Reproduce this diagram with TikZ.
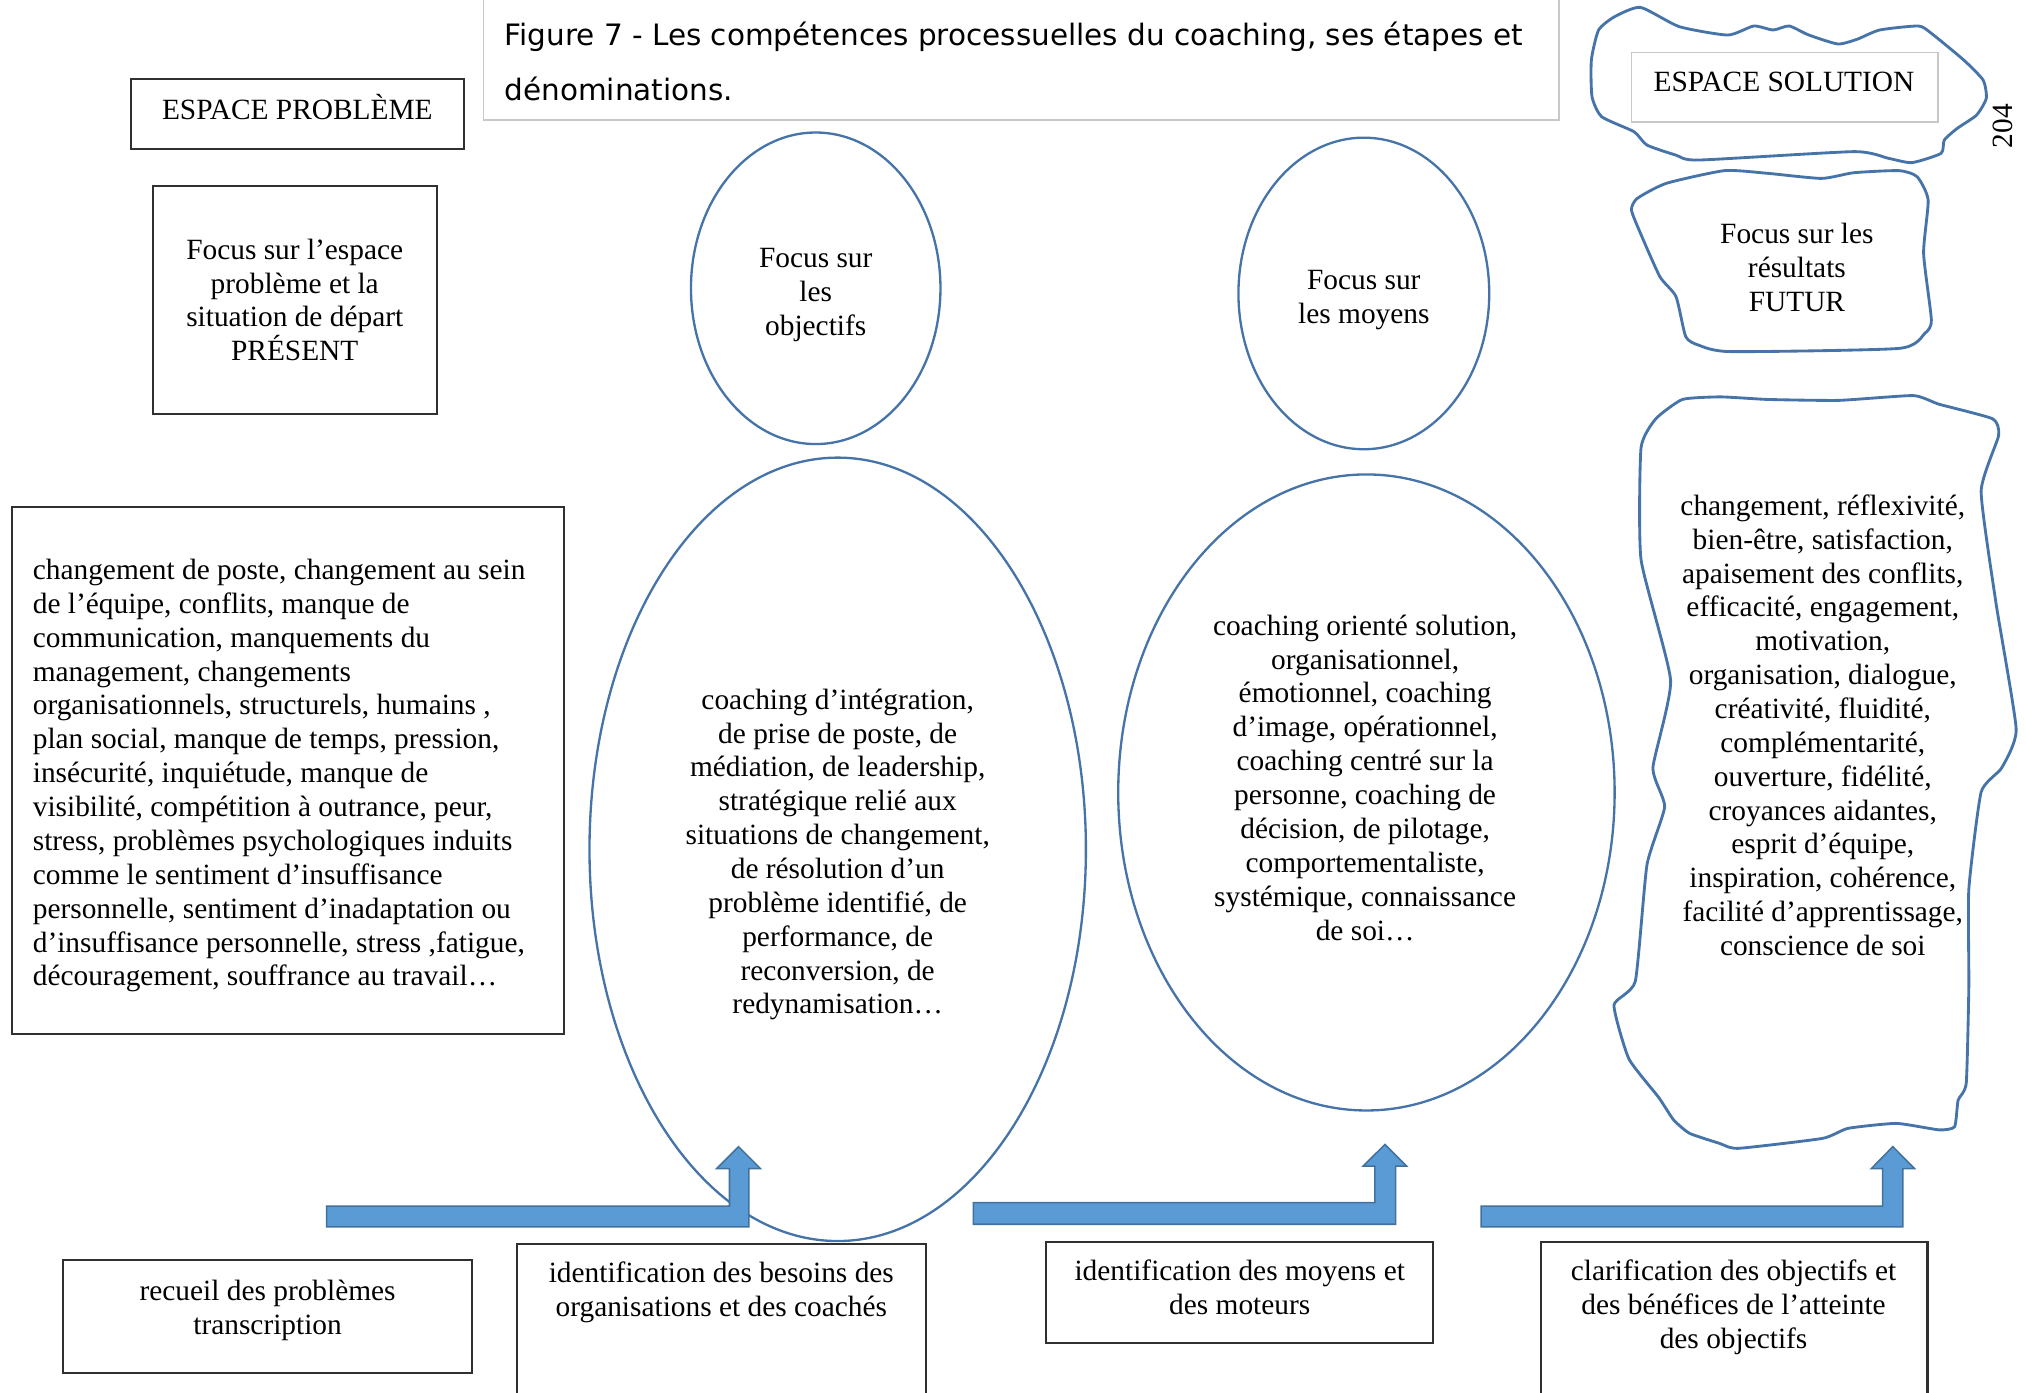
\documentclass[tikz,border=0pt]{standalone}
\usepackage{fontspec}
\setmainfont{Liberation Serif}
\newfontfamily\titlefont{DejaVu Sans}
\usetikzlibrary{shapes.geometric}
\definecolor{shapeblue}{HTML}{4674A8}
\definecolor{arrowfill}{HTML}{5B9BD5}
\definecolor{arrowline}{HTML}{41719C}
\definecolor{boxgray}{HTML}{303030}
\definecolor{lightgray}{HTML}{C8C8C8}
\begin{document}
\begin{tikzpicture}[x=0.5pt,y=-0.5pt,
  txt/.style={font=\fontsize{11.36}{13.1}\selectfont, align=center, inner sep=0pt},
  ttl/.style={font=\titlefont\fontsize{11.4}{13.1}\selectfont, inner sep=0pt, anchor=base west},
  rbox/.style={draw=boxgray, line width=0.8pt, inner sep=0pt},
  oval/.style={ellipse, draw=shapeblue, line width=0.9pt, inner sep=0pt},
  blob/.style={draw=shapeblue, line width=1.1pt},
  blockarrow/.style={fill=arrowfill, draw=arrowline, line width=0.6pt}]
\useasboundingbox (0,0) rectangle (1568,1077);

% title
\draw[lightgray, line width=0.6pt] (374,-5) -- (374,93) -- (1206,93) -- (1206,-5);
\node[ttl] (title1) at (390,35) {Figure 7 - Les compétences processuelles du coaching, ses étapes et};
\node[ttl] (title2) at (390,77.4) {dénominations.};

% left column
\node[rbox, minimum width=129pt, minimum height=27pt] (espprob) at (230,88) {};
\node[txt] (espprobt) at (230,82.5) {ESPACE PROBLÈME};
\node[rbox, minimum width=110pt, minimum height=88pt] (focusbox) at (228,232) {};
\node[txt] (focusboxt) at (228,232) {Focus sur l’espace\\problème et la\\situation de départ\\PRÉSENT};
\node[rbox, minimum width=213.5pt, minimum height=204pt] (probbox) at (222.5,596) {};
\node[txt, align=left, anchor=west] (probt) at (25,600) {changement de poste, changement au sein\\de l’équipe, conflits, manque de\\communication, manquements du\\management, changements\\organisationnels, structurels, humains ,\\plan social, manque de temps, pression,\\insécurité, inquiétude, manque de\\visibilité, compétition à outrance, peur,\\stress, problèmes psychologiques induits\\comme le sentiment d’insuffisance\\personnelle, sentiment d’inadaptation ou\\d’insuffisance personnelle, stress ,fatigue,\\découragement, souffrance au travail…};

% ellipses
\node[oval, minimum width=96.5pt, minimum height=120.5pt] (objov) at (631,223) {};
\node[txt] (objt) at (631,228) {Focus sur\\les\\objectifs};
\node[oval, minimum width=97pt, minimum height=120.5pt] (moyov) at (1055,227) {};
\node[txt] (moyt) at (1055,232) {Focus sur\\les moyens};
\node[oval, minimum width=192pt, minimum height=303pt] (bigov1) at (648,657) {};
\node[txt] (big1t) at (648,661) {coaching d’intégration,\\de prise de poste, de\\médiation, de leadership,\\stratégique relié aux\\situations de changement,\\de résolution d’un\\problème identifié, de\\performance, de\\reconversion, de\\redynamisation…};
\node[oval, minimum width=192pt, minimum height=246pt] (bigov2) at (1057,613) {};
\node[txt] (big2t) at (1056,601.5) {coaching orienté solution,\\organisationnel,\\émotionnel, coaching\\d’image, opérationnel,\\coaching centré sur la\\personne, coaching de\\décision, de pilotage,\\comportementaliste,\\systémique, connaissance\\de soi…};

% right column blobs
\draw[blob] plot[smooth cycle, tension=0.35] coordinates {
 (1269,5.7) (1299,20.6) (1336.6,27.1) (1356.6,20.1) (1371.6,23.2) (1384,20.1)
 (1399,27) (1421.6,34) (1436.5,30.4) (1454,23.2) (1484,20.1) (1494,25.8)
 (1519,46.4) (1534,61.9) (1536.5,76) (1529,89) (1514,99.3) (1504,108.3)
 (1501.5,118.6) (1479,125.8) (1461,122.5) (1434,117.3) (1314,123.8)
 (1296.5,120) (1274,112.2) (1264,101.9) (1239,90.3) (1231.5,74.8)
 (1231,46.4) (1236.6,23.2) (1249,12.9)};
\node[draw=lightgray, line width=0.6pt, minimum width=118.5pt, minimum height=27pt, inner sep=0pt] (espsolbox) at (1380.5,67.5) {};
\node[txt] (espsolt) at (1380,63) {ESPACE SOLUTION};
\node[txt, rotate=90] (pagenum) at (1549,97.5) {204};

\draw[blob] plot[smooth cycle, tension=0.35] coordinates {
 (1289,141.8) (1334,132) (1366.6,134) (1409,138) (1434,133.6) (1469,132)
 (1483,136.7) (1491.5,154.7) (1488,196) (1494,247.5) (1489,257.8)
 (1469,269.5) (1339,272) (1314,267) (1304,260.4) (1296.5,229.5)
 (1284,214) (1269,180.5) (1262,162.4) (1266.6,153.4)};
\node[txt] (futurt) at (1390,207) {Focus sur les\\résultats\\FUTUR};

\draw[blob] plot[smooth cycle, tension=0.3] coordinates {
 (1301.4,309) (1331,307) (1367.7,309) (1422.6,309.7) (1480,306) (1500,312.7)
 (1541.5,324) (1546,337) (1532.5,380) (1544,466.5) (1559.6,564) (1548.4,594)
 (1532.5,612.7) (1523,687.7) (1523,762.8) (1521,837.8) (1514.7,851)
 (1512,871.6) (1500,874) (1467,869) (1429.6,872.8) (1409.8,880.6)
 (1344.5,888.3) (1330,884.4) (1307,876.7) (1294.7,866.4) (1283,848.8)
 (1260,819) (1248.5,777.5) (1265,759) (1274,669) (1287.7,624) (1278.6,594)
 (1292.3,526.4) (1269.4,432.7) (1269.4,346.5) (1280.8,324)};
\node[txt] (resultt) at (1410,561) {changement, réflexivité,\\bien-être, satisfaction,\\apaisement des conflits,\\efficacité, engagement,\\motivation,\\organisation, dialogue,\\créativité, fluidité,\\complémentarité,\\ouverture, fidélité,\\croyances aidantes,\\esprit d’équipe,\\inspiration, cohérence,\\facilité d’apprentissage,\\conscience de soi};

% block arrows
\draw[blockarrow] (252.6,933) -- (564.3,933) -- (564.3,904) -- (554.3,904) -- (571.3,887)
  -- (588.3,904) -- (579.3,904) -- (579.3,949) -- (252.6,949) -- cycle;
\draw[blockarrow] (753,930.3) -- (1063.6,930.3) -- (1063.6,902) -- (1054.5,902) -- (1071.3,885.3)
  -- (1088,902) -- (1079.6,902) -- (1079.6,947) -- (753,947) -- cycle;
\draw[blockarrow] (1145.7,933) -- (1456.3,933) -- (1456.3,904) -- (1447.5,904) -- (1464.2,887)
  -- (1481,904) -- (1472,904) -- (1472,949) -- (1145.7,949) -- cycle;

% bottom boxes
\node[rbox, minimum width=158pt, minimum height=43.65pt] (recbox) at (207,1018.35) {};
\node[txt] (rect) at (207,1013.5) {recueil des problèmes\\transcription};
\draw[boxgray, line width=0.8pt] (400,1082) -- (400,962.6) -- (716,962.6) -- (716,1082);
\node[txt] (besoint) at (558,999.6) {identification des besoins des\\organisations et des coachés};
\node[rbox, minimum width=149.6pt, minimum height=39.1pt] (moybox) at (959,999.6) {};
\node[txt] (moyent) at (959,996) {identification des moyens et\\des moteurs};
\draw[boxgray, line width=0.8pt] (1192,1082) -- (1192,960.5) -- (1491,960.5) -- (1491,1082);
\node[txt] (clarift) at (1341,1011) {clarification des objectifs et\\des bénéfices de l’atteinte\\des objectifs};
\end{tikzpicture}
\end{document}
